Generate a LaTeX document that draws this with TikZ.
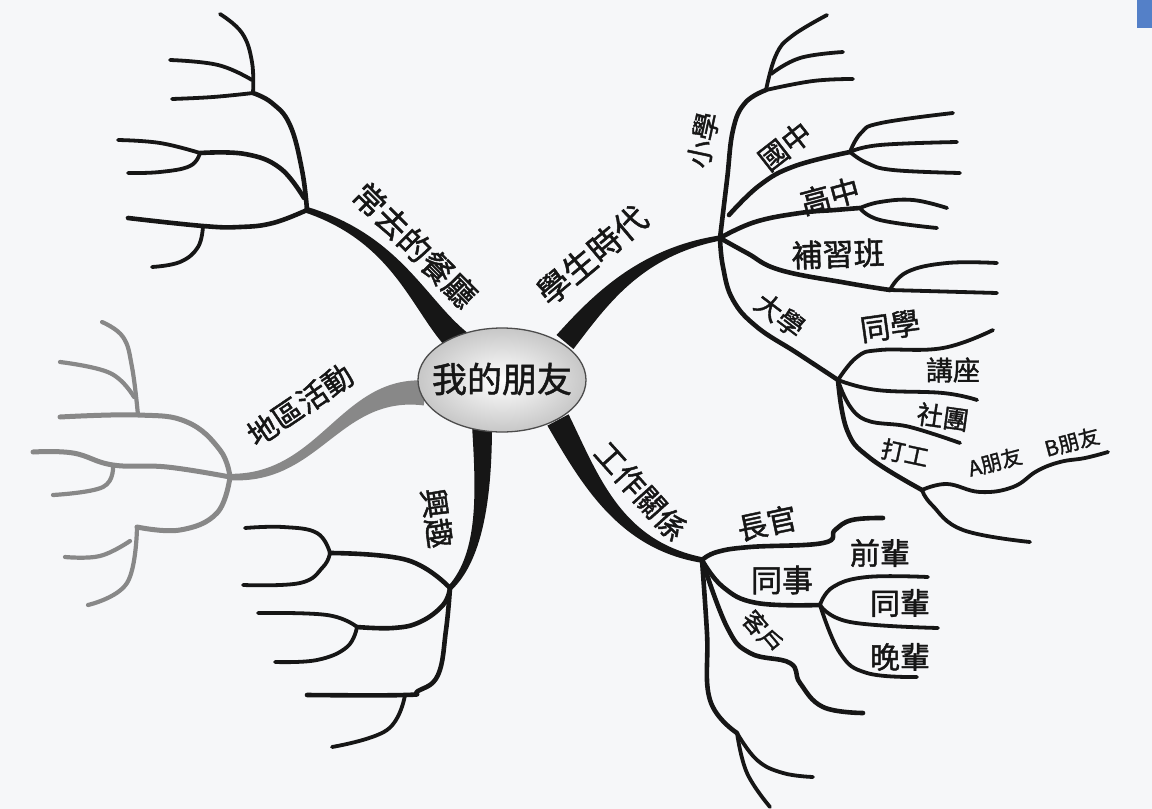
\documentclass[tikz,border=0pt]{standalone}
\usepackage{fontspec}
\newfontfamily\cjk{Noto Sans CJK TC}[FakeBold=1.4]
\usetikzlibrary{calc,shapes.geometric}
\definecolor{ink}{RGB}{22,22,22}
\definecolor{grayb}{RGB}{136,136,136}
\definecolor{paper}{RGB}{246,247,249}
\definecolor{tabblue}{RGB}{84,128,200}
% tapered branch: #1 colour, #2..#5 Bezier points, #6 half width at start, #7 half width at end
\newcommand\taperbranch[7]{%
  \fill[#1] ($(#2)!#6pt!90:(#3)$) .. controls ($(#3)!0.8*#6pt!-90:(#2)$) and ($(#4)!1.6*#7pt!90:(#5)$) .. ($(#5)!#7pt!-90:(#4)$)
    -- ($(#5)!#7pt!90:(#4)$) .. controls ($(#4)!1.6*#7pt!-90:(#5)$) and ($(#3)!0.8*#6pt!90:(#2)$) .. ($(#2)!#6pt!-90:(#3)$) -- cycle;
  \fill[#1] (#5) circle[radius=#7pt];
}
\begin{document}
\begin{tikzpicture}[x=1pt,y=-1pt,
  sub/.style={draw=ink,line width=4.6pt,line cap=round,line join=round},
  twig/.style={draw=ink,line width=3.8pt,line cap=round,line join=round},
  gsub/.style={draw=grayb,line width=5pt,line cap=round,line join=round},
  gtwig/.style={draw=grayb,line width=4.2pt,line cap=round,line join=round},
  lab/.style={inner sep=0pt,text=ink,font=\cjk\fontsize{#1}{#1}\selectfont},
  lab/.default=30]
\useasboundingbox (0,0) rectangle (1152,809);
\fill[paper] (0,0) rectangle (1152,809);
\fill[tabblue] (1137,0) rectangle (1152,28);

% ---------- main branch anchors ----------
\coordinate (A0) at (462,345); \coordinate (A1) at (420,310); \coordinate (A2) at (400,240); \coordinate (J1) at (307,210);
\coordinate (B0) at (565,342); \coordinate (B1) at (600,300); \coordinate (B2) at (640,252); \coordinate (J2) at (720,238);
\coordinate (C0) at (558,420); \coordinate (C1) at (590,480); \coordinate (C2) at (620,545); \coordinate (J3) at (702,560);
\coordinate (D0) at (482,425); \coordinate (D1) at (484,490); \coordinate (D2) at (482,555); \coordinate (J4) at (450,588);
\coordinate (E0) at (425,393); \coordinate (E1) at (340,385); \coordinate (E2) at (320,480); \coordinate (J5) at (230,477);

\taperbranch{ink}{A0}{A1}{A2}{J1}{13}{3}
\taperbranch{ink}{B0}{B1}{B2}{J2}{11}{2.6}
\taperbranch{ink}{C0}{C1}{C2}{J3}{12}{2.8}
\taperbranch{ink}{D0}{D1}{D2}{J4}{10}{2.6}
\taperbranch{grayb}{E0}{E1}{E2}{J5}{12.5}{3.2}

% ---------- branch 1 : 常去的餐廳 ----------
\coordinate (K1) at (253,93); \coordinate (K1b) at (252,80);
\coordinate (J1b) at (304,198); \coordinate (M1) at (200,153); \coordinate (L1) at (203,226);
\draw[sub] plot[smooth,tension=.7] coordinates {(J1) (302,170) (290,125) (272,103) (K1)};
\draw[twig] plot[smooth,tension=.7] coordinates {(K1) (252,62) (242,33) (220,14)};
\draw[twig] plot[smooth,tension=.7] coordinates {(K1b) (218,65) (170,60)};
\draw[twig] plot[smooth,tension=.7] coordinates {(K1) (213,97) (172,99)};
\draw[sub] plot[smooth,tension=.7] coordinates {(J1b) (280,168) (245,154) (M1)};
\draw[twig] plot[smooth,tension=.7] coordinates {(M1) (160,143) (118,140)};
\draw[twig] plot[smooth,tension=.7] coordinates {(M1) (190,166) (160,172) (128,173)};
\draw[sub] plot[smooth,tension=.7] coordinates {(J1) (273,223) (240,227) (L1) (128,218)};
\draw[twig] plot[smooth,tension=.7] coordinates {(L1) (198,247) (180,262) (152,267)};

% ---------- branch 2 : 學生時代 ----------
\coordinate (K2) at (766,90); \coordinate (K2b) at (771,74);
\coordinate (J2a) at (729,215); \coordinate (K3) at (850,152);
\coordinate (K4) at (860,208); \coordinate (K5) at (890,290);
\coordinate (K6) at (838,380); \coordinate (K7) at (922,490);
\draw[sub] plot[smooth,tension=.7] coordinates {(J2) (727,180) (733,130) (745,103) (K2)};
\draw[twig] plot[smooth,tension=.7] coordinates {(K2) (776,55) (792,36) (827,15)};
\draw[twig] plot[smooth,tension=.7] coordinates {(K2b) (800,58) (843,52)};
\draw[twig] plot[smooth,tension=.7] coordinates {(K2) (813,81) (853,79)};
\draw[sub] plot[smooth,tension=.7] coordinates {(J2a) (760,185) (795,166) (K3)};
\draw[twig] plot[smooth,tension=.7] coordinates {(K3) (861,133) (881,123) (953,113)};
\draw[twig] plot[smooth,tension=.7] coordinates {(K3) (880,145) (957,142)};
\draw[twig] plot[smooth,tension=.7] coordinates {(K3) (867,163) (893,170) (960,173)};
\draw[sub] plot[smooth,tension=.7] coordinates {(J2) (755,222) (800,213) (835,210) (K4)};
\draw[twig] plot[smooth,tension=.7] coordinates {(K4) (880,202) (913,200) (947,208)};
\draw[twig] plot[smooth,tension=.7] coordinates {(K4) (880,220) (937,228)};
\draw[sub] plot[smooth,tension=.7] coordinates {(J2) (747,253) (780,270) (847,283) (K5)};
\draw[twig] plot[smooth,tension=.7] coordinates {(K5) (907,272) (947,263) (997,263)};
\draw[twig] plot[smooth,tension=.7] coordinates {(K5) (997,293)};
\draw[sub] plot[smooth,tension=.7] coordinates {(J2) (723,267) (733,300) (757,327) (797,353) (K6)};
\draw[twig] plot[smooth,tension=.7] coordinates {(K6) (857,357) (880,350) (943,348) (993,330)};
\draw[twig] plot[smooth,tension=.7] coordinates {(K6) (877,390) (943,393) (977,400)};
\draw[twig] plot[smooth,tension=.7] coordinates {(K6) (860,417) (910,427) (960,443)};
\draw[sub] plot[smooth,tension=.7] coordinates {(K6) (847,430) (870,458) (K7)};
\draw[twig] plot[smooth,tension=.7] coordinates {(K7) (932,505) (963,530) (1030,542)};
\draw[twig] plot[smooth,tension=.7] coordinates {(K7) (947,484) (980,492) (1013,487) (1037,471) (1060,462) (1085,458) (1108,452)};

% ---------- branch 3 : 工作關係 ----------
\coordinate (K8) at (820,605); \coordinate (K9) at (737,733);
\draw[sub] plot[smooth,tension=.7] coordinates {(J3) (717,552) (750,547) (823,543) (835,530) (852,520) (883,518)};
\draw[sub] plot[smooth,tension=.7] coordinates {(J3) (723,587) (757,603) (K8)};
\draw[twig] plot[smooth,tension=.7] coordinates {(K8) (833,587) (867,577) (928,577)};
\draw[twig] plot[smooth,tension=.7] coordinates {(K8) (850,622) (938,628)};
\draw[twig] plot[smooth,tension=.7] coordinates {(K8) (840,653) (867,673) (917,677)};
\draw[sub] plot[smooth,tension=.7] coordinates {(J3) (727,627) (750,653) (790,663) (800,683) (823,707) (863,713)};
\draw[sub] plot[smooth,tension=.7] coordinates {(J3) (707,633) (710,700) (K9)};
\draw[twig] plot[smooth,tension=.7] coordinates {(K9) (757,760) (783,773) (813,777)};
\draw[twig] plot[smooth,tension=.7] coordinates {(K9) (747,773) (770,807)};

% ---------- branch 4 : 興趣 ----------
\coordinate (K10) at (330,553); \coordinate (K11) at (357,627); \coordinate (K12) at (405,695);
\draw[sub] plot[smooth,tension=.7] coordinates {(J4) (407,560) (K10)};
\draw[twig] plot[smooth,tension=.7] coordinates {(K10) (317,533) (283,527) (245,528)};
\draw[twig] plot[smooth,tension=.7] coordinates {(K10) (323,567) (300,583) (243,585)};
\draw[sub] plot[smooth,tension=.7] coordinates {(J4) (443,605) (420,622) (393,628) (K11)};
\draw[twig] plot[smooth,tension=.7] coordinates {(K11) (327,615) (258,613)};
\draw[twig] plot[smooth,tension=.7] coordinates {(K11) (347,647) (317,660) (275,662)};
\draw[sub] plot[smooth,tension=.7] coordinates {(J4) (446,630) (438,675) (418,691) (K12) (307,695)};
\draw[twig] plot[smooth,tension=.7] coordinates {(K12) (387,730) (332,747)};

% ---------- branch 5 : 地區活動 (grey) ----------
\coordinate (K13) at (138,415); \coordinate (K13b) at (134,397);
\coordinate (K14) at (113,465); \coordinate (K15) at (137,527); \coordinate (K15b) at (130,541);
\draw[gsub] plot[smooth,tension=.7] coordinates {(J5) (220,450) (187,422) (K13) (60,417)};
\draw[gtwig] plot[smooth,tension=.7] coordinates {(K13) (132,367) (123,337) (102,322)};
\draw[gtwig] plot[smooth,tension=.7] coordinates {(K13b) (110,373) (60,362)};
\draw[gsub] plot[smooth,tension=.7] coordinates {(J5) (167,467) (K14) (73,453) (33,452)};
\draw[gtwig] plot[smooth,tension=.7] coordinates {(K14) (103,487) (53,495)};
\draw[gsub] plot[smooth,tension=.7] coordinates {(J5) (217,513) (180,530) (K15)};
\draw[gtwig] plot[smooth,tension=.7] coordinates {(K15) (127,583) (88,605)};
\draw[gtwig] plot[smooth,tension=.7] coordinates {(K15b) (100,556) (65,557)};

% ---------- centre ----------
\node[ellipse,minimum width=168pt,minimum height=104pt,draw=black!70,line width=1.3pt,
      inner color=white,outer color=black!22,inner sep=0pt] (c) at (502,380) {};
\node[lab=35] (ct) at (502,379) {我的朋友};

% ---------- labels ----------
\node[lab=32,rotate=-45] (l1) at (415,245) {常去的餐廳};
\node[lab=33,rotate=40] (l2) at (592,255) {學生時代};
\node[lab=30,rotate=-48] (l3) at (641,491) {工作關係};
\node[lab=30,rotate=-82] (l4) at (437,518) {興趣};
\node[lab=30,rotate=34] (l5) at (300,405) {地區活動};

\node[lab=28,rotate=78] (s1) at (703,140) {小學};
\node[lab=29,rotate=38] (s2) at (785,146) {國中};
\node[lab=30,rotate=15] (s3) at (830,196) {高中};
\node[lab=31,rotate=2] (s4) at (838,254) {補習班};
\node[lab=27,rotate=-37] (s5) at (780,315) {大學};
\node[lab=30,rotate=8] (s6) at (890,326) {同學};
\node[lab=27] (s7) at (953,370) {講座};
\node[lab=26,rotate=-8] (s8) at (943,417) {社團};
\node[lab=24,rotate=-12] (s9) at (905,453) {打工};
\node[lab=21,rotate=15] (s10) at (995,462) {A朋友};
\node[lab=21,rotate=15] (s11) at (1072,442) {B朋友};

\node[lab=30,rotate=12] (w1) at (767,523) {長官};
\node[lab=31] (w2) at (782,580) {同事};
\node[lab=30] (w3) at (880,553) {前輩};
\node[lab=30] (w4) at (900,603) {同輩};
\node[lab=30] (w5) at (900,657) {晚輩};
\node[lab=24,rotate=-50] (w6) at (763,632) {客戶};
\end{tikzpicture}
\end{document}
